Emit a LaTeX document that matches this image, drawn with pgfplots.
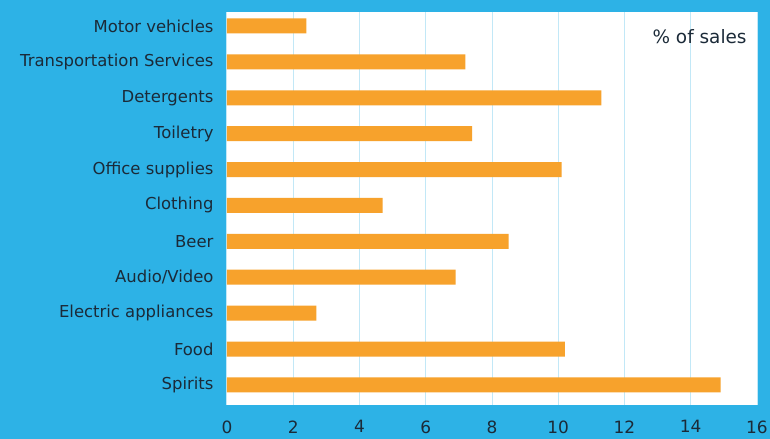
\documentclass[border=0pt]{standalone}
\usepackage{pgfplots}
\pgfplotsset{compat=1.18}
\usepackage{fontspec}
\setmainfont{DejaVu Sans}
\definecolor{bgblue}{HTML}{2DB2E6}
\definecolor{barorange}{HTML}{F7A22C}
\definecolor{gridblue}{HTML}{C2E8F7}
\definecolor{txt}{HTML}{1B2A38}
\pgfdeclarelayer{background}
\pgfsetlayers{background,main}

\begin{document}
\begin{tikzpicture}
\begin{axis}[
    at={(0,0)}, anchor=south west,
    scale only axis,
    width=530bp, height=393bp,
    xmin=0, xmax=16,
    ymin=-0.56, ymax=10.39,
    xtick={0,2,...,16},
    ytick={0,...,10},
    yticklabels={Spirits,Food,Electric appliances,Audio/Video,Beer,Clothing,Office supplies,Toiletry,Detergents,Transportation Services,Motor vehicles},
    major tick length=0pt,
    axis line style={draw=none},
    axis background/.style={fill=white},
    xmajorgrids,
    grid style={gridblue, line width=1pt},
    yticklabel style={font=\fontsize{16.5}{18}\selectfont, text=txt, xshift=-10bp},
    xticklabel style={font=\fontsize{17}{18}\selectfont, text=txt, yshift=-12bp},
    /pgf/number format/assume math mode=true,
    clip=false,
]
\addplot[xbar, bar width=15bp, fill=barorange, draw=none] coordinates {
    (14.9,0) (10.2,1) (2.7,2) (6.9,3) (8.5,4) (4.7,5)
    (10.1,6) (7.4,7) (11.3,8) (7.2,9) (2.4,10)
};
\node[anchor=east, text=txt, font=\fontsize{18.5}{20}\selectfont] at (rel axis cs:0.987,0.937) {\% of sales};
\end{axis}
\begin{pgfonlayer}{background}
\fill[bgblue] (-227bp,-34bp) rectangle (543bp,405bp);
\end{pgfonlayer}
\pgfresetboundingbox
\path (-227bp,-34bp) rectangle (543bp,405bp);
\end{tikzpicture}
\end{document}
